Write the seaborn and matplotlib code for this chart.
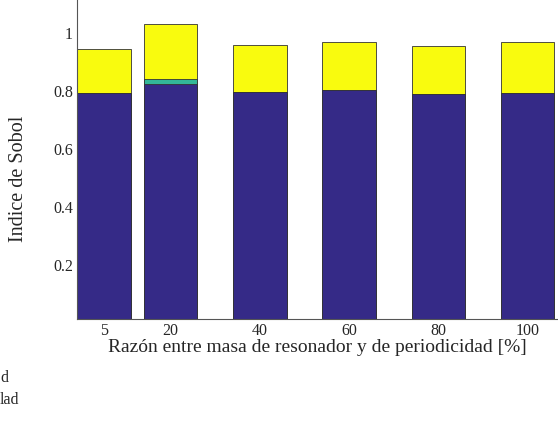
import matplotlib
matplotlib.use("Agg")
import matplotlib.pyplot as plt
import matplotlib.transforms as mtransforms
import numpy as np
import pandas as pd
import seaborn as sns

# razon de masa [%] y contribuciones del indice de Sobol
razon = [5, 20, 40, 60, 80, 100]
s_masa = [0.780, 0.812, 0.784, 0.790, 0.777, 0.780]
s_medio = [0.0, 0.016, 0.0, 0.0, 0.0, 0.0]
s_period = [0.151, 0.189, 0.161, 0.165, 0.165, 0.175]
xtick_vals = [5, 20, 30, 40, 50, 60, 70, 80, 90, 100]
xtick_labels = ["5", "20", "", "40", "", "60", "", "80", "", "100"]
ytick_vals = [0.2, 0.4, 0.6, 0.8, 1.0]
ytick_labels = ["0.2", "0.4", "0.6", "0.8", "1"]

sns.set_style("white")
plt.rcParams['font.family'] = ['Liberation Serif', 'DejaVu Serif']

df = pd.DataFrame({"razon": razon, "masa": s_masa, "medio": s_medio, "period": s_period})
df["c1"] = df.masa
df["c2"] = df.masa + df.medio
df["c3"] = df.masa + df.medio + df.period

fig = plt.figure(figsize=(5.58, 4.33), dpi=100)
ax = fig.add_axes([77/558, (433-319)/433, 1 - 77/558, 319/433])

# apilado: se dibujan los totales acumulados de mayor a menor
for col, color in [("c3", "#F9FB0E"), ("c2", "#33B798"), ("c1", "#352A87")]:
    sns.barplot(data=df, x="razon", y=col, native_scale=True, color=color,
                saturation=1, errorbar=None, edgecolor="#333333",
                linewidth=0.6, width=0.8, ax=ax)

ax.set_xlim(-1, 106.8)
ax.set_ylim(0, 1.1)
ax.set_xticks(xtick_vals)
ax.set_xticklabels(xtick_labels, fontsize=11.5)
ax.set_yticks(ytick_vals)
ax.set_yticklabels(ytick_labels, fontsize=11.5)
ax.tick_params(direction="in", length=4, width=0.6, color="#333333")
ax.tick_params(axis="x", pad=3)
ax.tick_params(axis="y", pad=3)
ax.set_axisbelow(True)
# etiquetas del eje y un poco por debajo de la marca
shift = mtransforms.ScaledTranslation(0, -4/100, fig.dpi_scale_trans)
for lab in ax.get_yticklabels():
    lab.set_transform(lab.get_transform() + shift)
for s in ["top", "right"]:
    ax.spines[s].set_visible(False)
for s in ["left", "bottom"]:
    ax.spines[s].set_color("#555555")
    ax.spines[s].set_linewidth(0.8)

ax.set_xlabel("Razón entre masa de resonador y de periodicidad [%]", fontsize=14, labelpad=0)
ax.set_ylabel("Indice de Sobol", fontsize=14.5)
ax.yaxis.set_label_coords((28 - 77) / 481, (319 - 179) / 319)

# restos visibles de la leyenda recortada
fig.text(-0.003, 433-378, "d", fontsize=11.5, transform=None, va="center")
fig.text(-0.003, 433-400, "lad", fontsize=11.5, transform=None, va="center")

fig.savefig("out.png", dpi=100)
